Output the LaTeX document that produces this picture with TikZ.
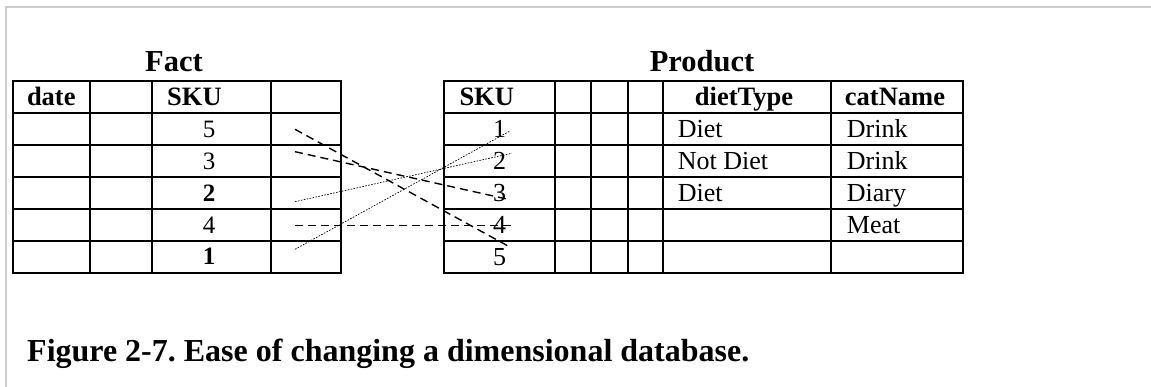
\documentclass[tikz,border=0pt]{standalone}
\usepackage{fontspec}
\setmainfont{Liberation Serif}
\frenchspacing
\begin{document}
\begin{tikzpicture}[x=1pt,y=-1pt,
  grid/.style={line width=1.9pt,black,line cap=rect},
  frame/.style={line width=2pt,color=black!20},
  txt/.style={inner sep=0pt,anchor=base,font=\fontsize{26}{30}\selectfont},
  txtl/.style={txt,anchor=base west},
  key/.style={inner sep=0pt,anchor=base,font=\fontsize{25}{29}\selectfont},
  keyb/.style={key,font=\fontsize{25}{29}\selectfont\bfseries},
  hdr/.style={txt,font=\fontsize{26.5}{30}\selectfont\bfseries},
  hdrl/.style={hdr,anchor=base west},
  title/.style={inner sep=0pt,anchor=base,font=\fontsize{30.5}{34}\selectfont\bfseries},
  caption/.style={inner sep=0pt,anchor=base west,font=\fontsize{32}{36}\selectfont\bfseries},
  dashconn/.style={line width=1.4pt,dash pattern=on 8pt off 5pt},
  dotconn/.style={line width=0.7pt,dash pattern=on 1.6pt off 1.4pt}]
\useasboundingbox (0,0) rectangle (1151,387);

% page frame
\draw[frame] (6,387) -- (6,7.5) -- (1151,7.5);

% Fact table grid
\foreach \y in {81,113,145,177,209,241,273}
  \draw[grid] (12.7,\y) -- (340.7,\y);
\foreach \x in {12.7,90,152,270.7,340.7}
  \draw[grid] (\x,81) -- (\x,273);

% Product table grid
\foreach \y in {81,113,145,177,209,241,273}
  \draw[grid] (444.3,\y) -- (963,\y);
\foreach \x in {444.3,555,591,627.7,662.7,831,963}
  \draw[grid] (\x,81) -- (\x,273);

% titles
\node[title] (tfact) at (174,72) {Fact};
\node[title] (tprod) at (702,72) {Product};

% Fact headers and keys
\node[hdr]  (fdate) at (51.3,106) {date};
\node[hdrl] (fsku)  at (167,106) {SKU};
\node[key]  (fk5) at (209,137.5) {5};
\node[key]  (fk3) at (209,169.5) {3};
\node[keyb] (fk2) at (209,202) {2};
\node[key]  (fk4) at (209,233.5) {4};
\node[keyb] (fk1) at (209,265) {1};

% Product headers and rows
\node[hdrl] (psku)  at (459.3,106) {SKU};
\node[hdr]  (pdiet) at (744,106) {dietType};
\node[hdr]  (pcat)  at (895,106) {catName};
\node[txt] (pk1) at (499.5,137.5) {1};
\node[txt] (pk2) at (499.5,169.5) {2};
\node[txt] (pk3) at (499.5,201.5) {3};
\node[txt] (pk4) at (499.5,233.5) {4};
\node[txt] (pk5) at (499.5,265.5) {5};
\node[txtl] (pd1) at (677.7,137.5) {Diet};
\node[txtl] (pd2) at (677.7,169.5) {Not Diet};
\node[txtl] (pd3) at (677.7,201.5) {Diet};
\node[txtl] (pc1) at (846.7,137.5) {Drink};
\node[txtl] (pc2) at (846.7,169.5) {Drink};
\node[txtl] (pc3) at (846.7,201.5) {Diary};
\node[txtl] (pc4) at (846.7,233.5) {Meat};

% connector ends
\coordinate (fa) at (295,129.3);
\coordinate (fb) at (295,151.7);
\coordinate (fc) at (295,201.7);
\coordinate (fd) at (295,225.7);
\coordinate (fe) at (295,249.3);
\coordinate (pa) at (509.3,246.7);
\coordinate (pb) at (506.7,199);
\coordinate (pc) at (511.7,153.3);
\coordinate (pd) at (513.3,225.7);
\coordinate (pe) at (510,131);

% links between the tables
\draw[dashconn] (fa) -- (pa);
\draw[dashconn] (fb) -- (pb);
\draw[dotconn]  (fc) -- (pc);
\draw[dashconn] (fd) -- (pd);
\draw[dotconn]  (fe) -- (pe);

% caption
\node[caption] (cap) at (27,361.7) {Figure 2-7. Ease of changing a dimensional database.};
\end{tikzpicture}
\end{document}
